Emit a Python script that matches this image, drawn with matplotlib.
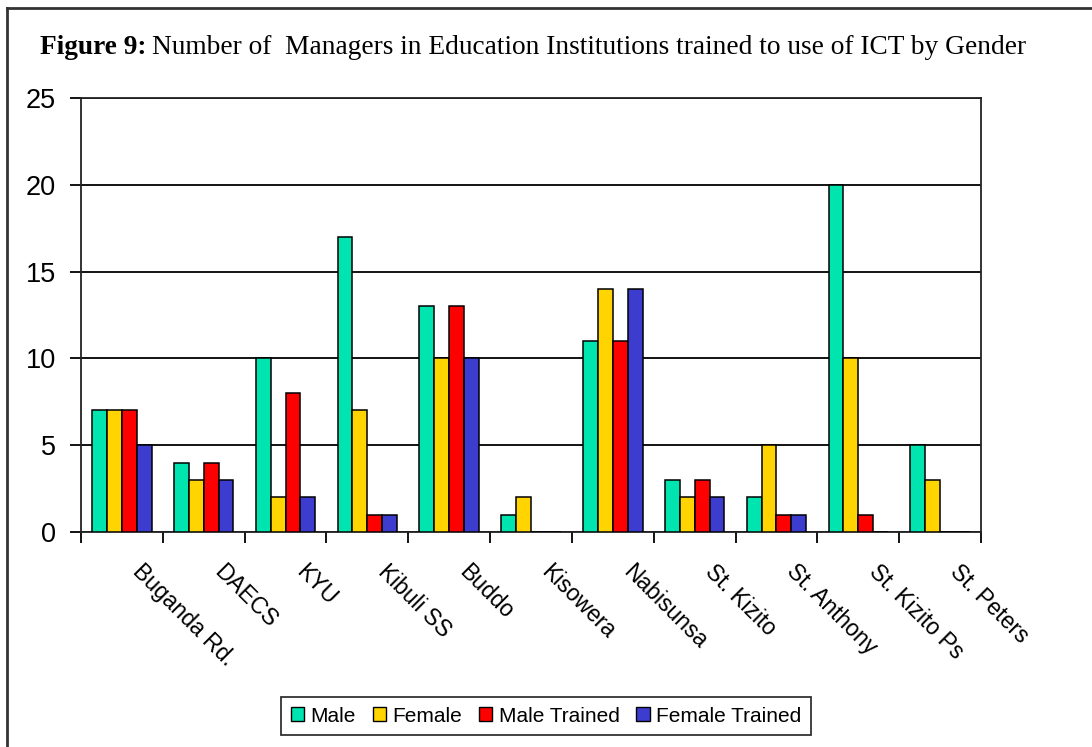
import matplotlib
matplotlib.use("Agg")
import matplotlib.pyplot as plt
import matplotlib.transforms as mtransforms
import numpy as np
from matplotlib.lines import Line2D
from matplotlib.patches import Patch

# Data
schools = [
    "Buganda Rd.", "DAECS", "KYU", "Kibuli SS", "Buddo", "Kisowera",
    "Nabisunsa", "St. Kizito", "St. Anthony", "St. Kizito Ps", "St. Peters",
]
male = [7, 4, 10, 17, 13, 1, 11, 3, 2, 20, 5]
female = [7, 3, 2, 7, 10, 2, 14, 2, 5, 10, 3]
male_trained = [7, 4, 8, 1, 13, 0, 11, 3, 1, 1, 0]
female_trained = [5, 3, 2, 1, 10, 0, 14, 2, 1, 0, 0]

series_names = ["Male", "Female", "Male Trained", "Female Trained"]
series_colors = ["#00E5B0", "#FFD400", "#FF0000", "#3C3CCF"]

W, H = 1092, 747


def main():
    fig = plt.figure(figsize=(W / 100, H / 100), dpi=100)
    ax = fig.add_axes([81 / W, 1 - 532 / H, 900 / W, 434 / H])

    series = [male, female, male_trained, female_trained]
    n = len(schools)
    x = np.arange(n)
    bar_w = 1 / 5.5  # Excel style gap width 150%

    ax.set_axisbelow(True)
    ax.yaxis.grid(True, color="black", linewidth=1.3)

    for i, (vals, col) in enumerate(zip(series, series_colors)):
        offs = (i - 1.5) * bar_w
        ax.bar(x + offs, vals, width=bar_w, color=col, edgecolor="black",
               linewidth=1.1, zorder=3)

    ax.set_xlim(-0.5, n - 0.5)
    ax.set_ylim(0, 25)
    ax.set_yticks(range(0, 26, 5))
    ax.set_xticks(np.arange(-0.5, n, 1.0))
    ax.set_xticklabels([])

    for sp in ax.spines.values():
        sp.set_linewidth(1.3)
        sp.set_color("#222222")

    ax.tick_params(axis="y", direction="out", length=8, width=1.3,
                   labelsize=19.5, pad=10)
    ax.tick_params(axis="x", direction="out", length=8, width=1.3)
    for lab in ax.get_yticklabels():
        lab.set_fontfamily("Liberation Sans")

    # Rotated category labels, anchored a bit right of each group centre
    trans = mtransforms.blended_transform_factory(ax.transData, ax.transAxes)
    off = mtransforms.ScaledTranslation(22 / 100, -28 / 100, fig.dpi_scale_trans)
    for xi, name in zip(x, schools):
        ax.text(xi, 0, name, transform=trans + off, rotation=-45,
                rotation_mode="anchor", ha="left", va="top",
                fontsize=16.5, family="Liberation Sans")

    # Title: bold prefix + normal text
    t1 = fig.text(40 / W, 1 - 47 / H, "Figure 9:", fontsize=19.7,
                  family="Liberation Serif", weight="bold", va="center")
    fig.canvas.draw()
    ext = t1.get_window_extent()
    fig.text(ext.x1 / W + 5 / W, 1 - 47 / H,
             "Number of  Managers in Education Institutions trained to use of ICT by Gender",
             fontsize=19.7, family="Liberation Serif", va="center")

    # Legend
    handles = [Patch(facecolor=c, edgecolor="black", linewidth=1.0)
               for c in series_colors]
    leg = fig.legend(handles, series_names, loc="center",
                     bbox_to_anchor=(546 / W, 1 - 716 / H), ncol=4,
                     frameon=True, fancybox=False,
                     prop={"family": "Liberation Sans", "size": 15},
                     handlelength=0.65, handleheight=0.65, handletextpad=0.3,
                     columnspacing=0.8, borderpad=0.45)
    leg.get_frame().set_edgecolor("black")
    leg.get_frame().set_linewidth(1.3)

    # Outer frame (top and left edges visible in the reference)
    fig.add_artist(Line2D([7 / W, 1], [1 - 8 / H, 1 - 8 / H],
                          transform=fig.transFigure, color="#333333", lw=2))
    fig.add_artist(Line2D([7 / W, 7 / W], [0, 1 - 8 / H],
                          transform=fig.transFigure, color="#333333", lw=2))

    fig.savefig("out.png", dpi=100)


if __name__ == "__main__":
    main()
